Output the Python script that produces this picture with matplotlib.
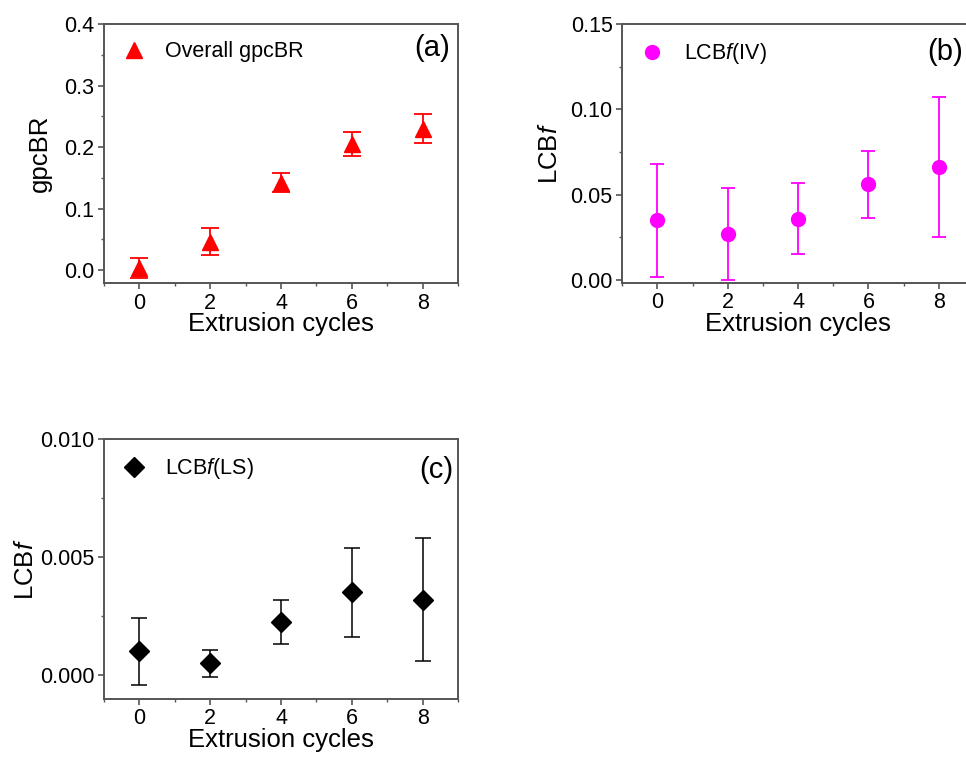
import matplotlib
matplotlib.use("Agg")
import matplotlib.pyplot as plt
from matplotlib.ticker import MultipleLocator, FormatStrFormatter

plt.rcParams['font.family'] = ['Liberation Sans', 'DejaVu Sans']
plt.rcParams['mathtext.fontset'] = 'custom'
plt.rcParams['mathtext.rm'] = 'Liberation Sans'
plt.rcParams['mathtext.it'] = 'Liberation Sans:italic'

cycles = [0, 2, 4, 6, 8]

gpcbr = [0.003, 0.046, 0.142, 0.205, 0.230]
gpcbr_err = [0.016, 0.022, 0.015, 0.020, 0.024]

lcbf_iv = [0.035, 0.027, 0.036, 0.056, 0.066]
lcbf_iv_err = [0.033, 0.027, 0.021, 0.0196, 0.041]

lcbf_ls = [0.0010, 0.0005, 0.00225, 0.0035, 0.0032]
lcbf_ls_err = [0.0014, 0.00057, 0.00095, 0.0019, 0.0026]

W, H = 966, 757
fig = plt.figure(figsize=(W / 100, H / 100), dpi=100)

def pos(l, t, r, b):
    return [l / W, 1 - b / H, (r - l) / W, (b - t) / H]

spine_col = '#555555'
TICK_FS = 15.5
LAB_FS = 18.5
LEG_FS = 15.5
PANEL_FS = 21

def style(ax, ylim, major, minor, fmt, ylab, ylab_x):
    ax.set_xlim(-1, 9)
    ax.set_ylim(*ylim)
    ax.xaxis.set_major_locator(MultipleLocator(2))
    ax.xaxis.set_minor_locator(MultipleLocator(1))
    ax.yaxis.set_major_locator(MultipleLocator(major))
    ax.yaxis.set_minor_locator(MultipleLocator(minor))
    ax.yaxis.set_major_formatter(FormatStrFormatter(fmt))
    for s in ax.spines.values():
        s.set_color(spine_col)
        s.set_linewidth(1.4)
    ax.tick_params(which='major', direction='out', length=4, width=1.2,
                   color=spine_col, labelsize=TICK_FS, pad=3)
    ax.tick_params(axis='x', which='major', pad=3)
    ax.tick_params(which='minor', direction='out', length=2.5, width=1.0,
                   color=spine_col)
    ax.tick_params(top=False, right=False, which='both')
    ax.set_xlabel('Extrusion cycles', fontsize=LAB_FS, labelpad=-1)
    ax.set_ylabel(ylab, fontsize=LAB_FS)
    ax.yaxis.set_label_coords(ylab_x, 0.5)

def legend(ax):
    ax.legend(loc='upper left', frameon=False, fontsize=LEG_FS,
              handletextpad=0.85, borderaxespad=0.4, borderpad=0.4,
              handlelength=1.2, numpoints=1)

# (a)
ax1 = fig.add_axes(pos(104, 24, 458, 283))
ax1.errorbar(cycles, gpcbr, yerr=gpcbr_err, fmt='none', ecolor='red',
             elinewidth=1.3, capsize=6.5, capthick=1.3)
ax1.plot(cycles, gpcbr, ls='none', marker='^', ms=11.5, color='red',
         label='Overall gpcBR')
style(ax1, (-0.021, 0.4), 0.1, 0.05, '%.1f', 'gpcBR', -0.147)
legend(ax1)
ax1.text(0.977, 0.907, '(a)', transform=ax1.transAxes, ha='right',
         va='center', fontsize=PANEL_FS)

# (b)
ax2 = fig.add_axes(pos(622.3, 24, 974, 282.7))
ax2.errorbar(cycles, lcbf_iv, yerr=lcbf_iv_err, fmt='none', ecolor='#ff00ff',
             elinewidth=1.3, capsize=5, capthick=1.3)
ax2.plot(cycles, lcbf_iv, ls='none', marker='o', ms=10, color='#ff00ff',
         label=r'LCB$\mathit{f}$(IV)')
style(ax2, (-0.0016, 0.15), 0.05, 0.025, '%.2f', r'LCB$\mathit{f}$', -0.171)
legend(ax2)
ax2.text(0.969, 0.89, '(b)', transform=ax2.transAxes, ha='right',
         va='center', fontsize=PANEL_FS)

# (c)
ax3 = fig.add_axes(pos(104, 439, 458, 698.7))
ax3.errorbar(cycles, lcbf_ls, yerr=lcbf_ls_err, fmt='none', ecolor='black',
             elinewidth=1.1, capsize=6, capthick=1.1)
ax3.plot(cycles, lcbf_ls, ls='none', marker='D', ms=10, color='black',
         label=r'LCB$\mathit{f}$(LS)')
style(ax3, (-0.001, 0.010), 0.005, 0.0025, '%.3f', r'LCB$\mathit{f}$', -0.186)
legend(ax3)
ax3.text(0.986, 0.88, '(c)', transform=ax3.transAxes, ha='right',
         va='center', fontsize=PANEL_FS)

fig.savefig('out.png', dpi=100)
